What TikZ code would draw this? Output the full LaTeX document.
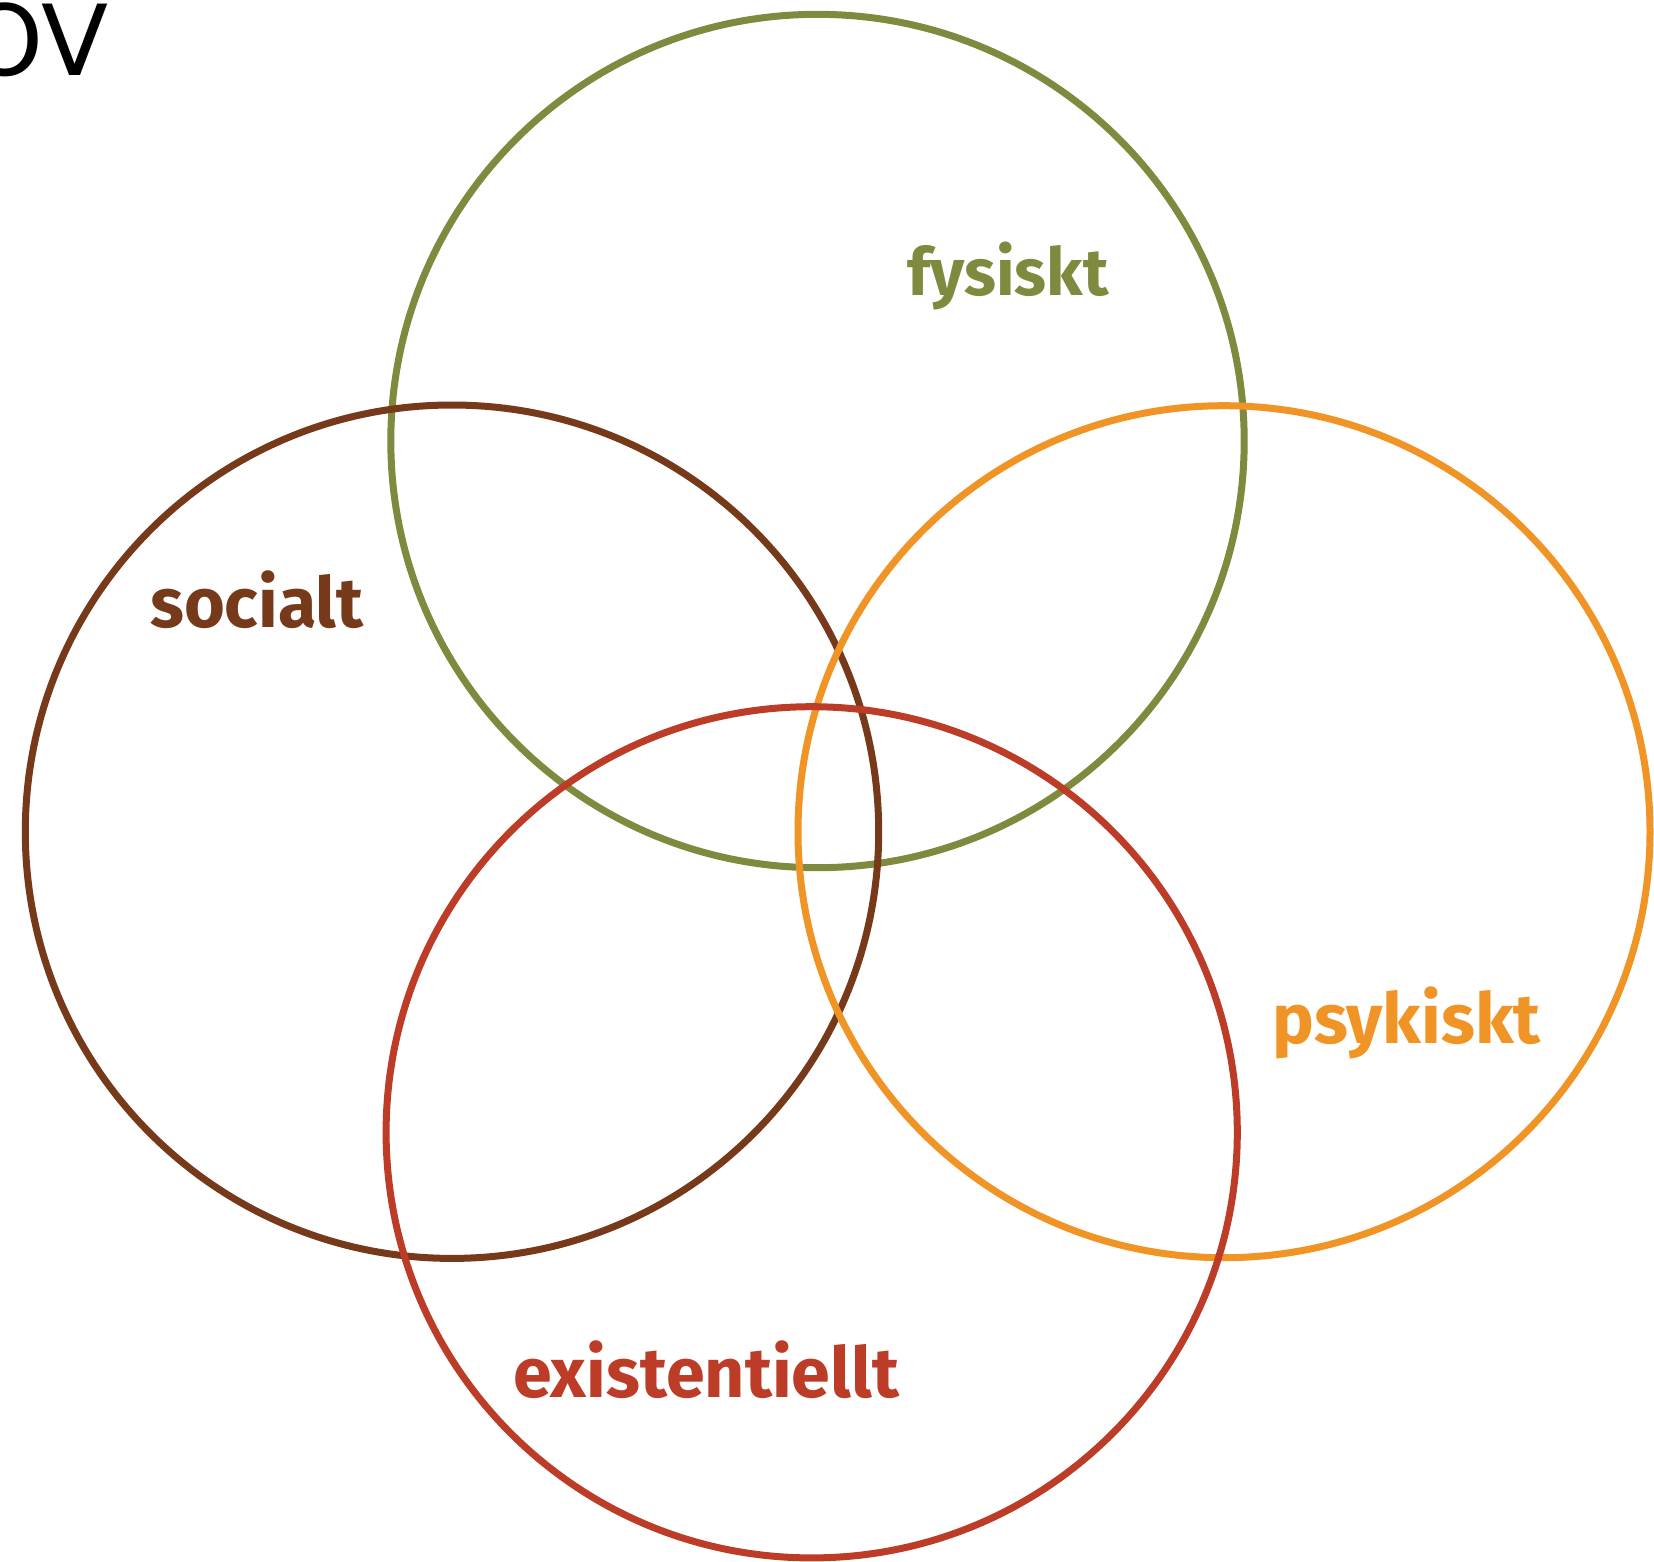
\documentclass[tikz,border=0pt]{standalone}
\usepackage{fontspec}
\setmainfont{PT Sans}
\newfontfamily\lblfont{Fira Sans}
\newfontfamily\ovfont{DejaVu Sans}
\definecolor{cgreen}{HTML}{7F8A3F}
\definecolor{cbrown}{HTML}{76391A}
\definecolor{corange}{HTML}{F09425}
\definecolor{cred}{HTML}{BC3C27}
\tikzset{ring/.style={line width=7pt},
  lbl/.style={font=\lblfont\bfseries\fontsize{70}{70}\selectfont, anchor=base west, inner sep=0pt}}
\begin{document}
\begin{tikzpicture}[x=1pt,y=-1pt]
\useasboundingbox (0,0) rectangle (1654,1561);
\clip (0,0) rectangle (1654,1561);
\node[font=\ovfont\fontsize{98}{98}\selectfont, anchor=base east, inner sep=0pt] (ov) at (109,75) {OV};
\draw[ring, cgreen] (817.5,441) circle (426.7);
\draw[ring, cbrown] (452,831.7) circle (426.7);
\draw[ring, corange] (1224,831.7) circle (426);
\draw[ring, cred] (811.7,1132.3) circle (425.6);
\node[lbl, text=cgreen, font=\lblfont\bfseries\fontsize{66}{66}\selectfont] (fys) at (907,295) {fysiskt};
\node[lbl, text=cbrown] (soc) at (150,627) {socialt};
\node[lbl, text=corange] (psy) at (1272,1043) {psykiskt};
\node[lbl, text=cred] (exi) at (513,1397) {existentiellt};
\end{tikzpicture}
\end{document}
